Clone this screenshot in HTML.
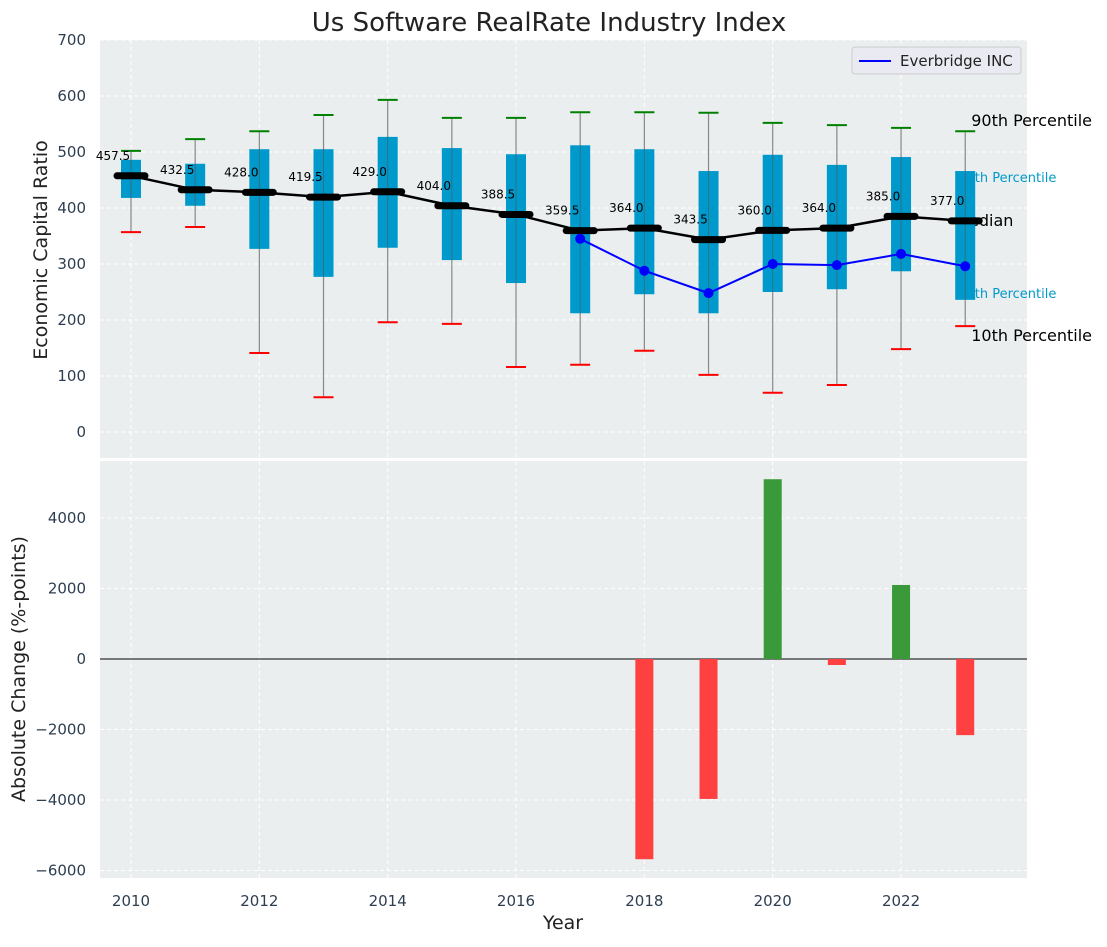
<!DOCTYPE html>
<html><head><meta charset="utf-8"><style>
body{margin:0;background:#fff;font-family:"Liberation Sans","DejaVu Sans",sans-serif}
svg text{font-family:"DejaVu Sans","Liberation Sans",sans-serif}
</style></head><body>
<svg id="c" width="1107" height="942" xmlns="http://www.w3.org/2000/svg">
<rect width="1107" height="942" fill="#fff"/>
<g id="topg"></g><g id="botg"></g>
</svg>
<script>
const years=[2010,2011,2012,2013,2014,2015,2016,2017,2018,2019,2020,2021,2022,2023];
const p90=[502,523,537,566,593,561,561,571,571,570,552,548,543,537];
const p75=[486,479,505,505,527,507,496,512,505,466,495,477,491,466];
const p25=[418,404,327,277,329,307,266,212,246,212,250,255,287,236];
const p10=[357,366,141,62,196,193,116,120,145,102,70,84,148,189];
const medians=[457.5,432.5,428.0,419.5,429.0,404.0,388.5,359.5,364.0,343.5,360.0,364.0,385.0,377.0];
const compYears=[2017,2018,2019,2020,2021,2022,2023];
const compVals=[345,288,248,300,298,318,296];
const chgYears=[2018,2019,2020,2021,2022,2023];
const chgVals=[-5680,-3970,5100,-170,2100,-2160];
const topTicks=[0,100,200,300,400,500,600,700];
const botTicks=[4000,2000,0,-2000,-4000,-6000];
const xTicks=[2010,2012,2014,2016,2018,2020,2022];

const NS="http://www.w3.org/2000/svg";
const L=100,R=1027;
const x=v=>131+(v-2010)*64.17;
const yT=v=>432-v*0.56;
const yB=v=>659-v*0.03525;
function mk(p,tag,a,txt){const e=document.createElementNS(NS,tag);for(const k in a)e.setAttribute(k,a[k]);if(txt!==undefined)e.textContent=txt;p.appendChild(e);return e;}
const topG=document.getElementById('topg'),botG=document.getElementById('botg'),svgEl=document.getElementById('c');

let e=mk(topG,'rect',{x:L,y:40,width:R-L,height:418,fill:'#eaeeef'});


e=mk(botG,'rect',{x:L,y:461,width:R-L,height:417,fill:'#eaeeef'});



xTicks.forEach(t=>{
 mk(topG,'line',{x1:x(t),x2:x(t),y1:40,y2:458,stroke:'#fff','stroke-dasharray':'4,3','stroke-width':1});
 mk(botG,'line',{x1:x(t),x2:x(t),y1:461,y2:878,stroke:'#fff','stroke-dasharray':'4,3','stroke-width':1});
 e=mk(svgEl,'text',{x:x(t),y:906,'text-anchor':'middle','font-size':15,fill:'#2d3e50'},t);
 
 
});
topTicks.forEach(t=>{
 mk(topG,'line',{x1:L,x2:R,y1:yT(t),y2:yT(t),stroke:'#fff','stroke-dasharray':'4,3','stroke-width':1});
 e=mk(svgEl,'text',{x:86,y:yT(t)+5,'text-anchor':'end','font-size':15,fill:'#2d3e50'},t);
 
 
});
botTicks.forEach(t=>{
 mk(botG,'line',{x1:L,x2:R,y1:yB(t),y2:yB(t),stroke:'#fff','stroke-dasharray':'4,3','stroke-width':1});
 e=mk(svgEl,'text',{x:86,y:yB(t)+5,'text-anchor':'end','font-size':15,fill:'#2d3e50'},(t<0?'\u2212'+(-t):t));
 
 
});

const lx=x(2023);
[['90th Percentile',lx+6,126,16,'#000'],['75th Percentile',lx-7,182,13,'#0099cc'],['Median',lx-10,226,16,'#000'],['25th Percentile',lx-7,298,13,'#0099cc'],['10th Percentile',lx+6,341,16,'#000']].forEach(a=>{
 e=mk(topG,'text',{x:a[1],y:a[2],'font-size':a[3],fill:a[4]},a[0]);
 
 
});

years.forEach((yr,i)=>{
 const cx=x(yr);
 e=mk(topG,'line',{x1:cx,x2:cx,y1:yT(p90[i]),y2:yT(p10[i]),stroke:'#888','stroke-width':1.2});
 
 
 e=mk(topG,'rect',{x:cx-10,y:yT(p75[i]),width:20,height:yT(p25[i])-yT(p75[i]),fill:'#0099cc'});
 
 
 mk(topG,'line',{x1:cx,x2:cx,y1:yT(p75[i]),y2:yT(p25[i]),stroke:'#555','stroke-width':1,opacity:0.6});
 e=mk(topG,'line',{x1:cx-10,x2:cx+10,y1:yT(p90[i]),y2:yT(p90[i]),stroke:'green','stroke-width':2});
 
 
 e=mk(topG,'line',{x1:cx-10,x2:cx+10,y1:yT(p10[i]),y2:yT(p10[i]),stroke:'red','stroke-width':2});
 
 
});
e=mk(topG,'polyline',{points:years.map((yr,i)=>x(yr)+','+yT(medians[i])).join(' '),fill:'none',stroke:'#000','stroke-width':2.5});


years.forEach((yr,i)=>{
 e=mk(topG,'line',{x1:x(yr)-14,x2:x(yr)+14,y1:yT(medians[i]),y2:yT(medians[i]),stroke:'#000','stroke-width':7,'stroke-linecap':'round'});
 
 
 e=mk(topG,'text',{x:x(yr)-18,y:yT(medians[i])-16,'text-anchor':'middle','font-size':12,fill:'#000'},medians[i].toFixed(1));
 
 
});
e=mk(topG,'polyline',{points:compYears.map((yr,i)=>x(yr)+','+yT(compVals[i])).join(' '),fill:'none',stroke:'#0000ff','stroke-width':2});


compYears.forEach((yr,i)=>{
 e=mk(topG,'circle',{cx:x(yr),cy:yT(compVals[i]),r:5,fill:'#0000ff'});
 
 
});
const lg=mk(topG,'g',{});


mk(lg,'rect',{x:852,y:47,width:169,height:27,rx:3,fill:'#eaeaf2',stroke:'#ccc'});
mk(lg,'line',{x1:859,x2:891,y1:61,y2:61,stroke:'#0000ff','stroke-width':2});
mk(lg,'text',{x:900,y:66,'font-size':15,fill:'#222'},'Everbridge INC');

mk(botG,'line',{x1:L,x2:R,y1:yB(0),y2:yB(0),stroke:'#000','stroke-width':1});
chgYears.forEach((yr,i)=>{
 const v=chgVals[i];
 e=mk(botG,'rect',{x:x(yr)-9,y:Math.min(yB(v),yB(0)),width:18,height:Math.abs(yB(v)-yB(0)),fill:v>=0?'#3a9a3a':'#ff4040'});
 
 
});

e=mk(svgEl,'text',{x:549,y:31,'text-anchor':'middle','font-size':26,fill:'#222'},'Us Software RealRate Industry Index');


e=mk(svgEl,'text',{x:563,y:929,'text-anchor':'middle','font-size':19,fill:'#222'},'Year');


e=mk(svgEl,'text',{x:0,y:0,'text-anchor':'middle','font-size':19,fill:'#222',transform:'translate(47,250) rotate(-90)'},'Economic Capital Ratio');


e=mk(svgEl,'text',{x:0,y:0,'text-anchor':'middle','font-size':19,fill:'#222',transform:'translate(25,669) rotate(-90)'},'Absolute Change (%-points)');


</script>
</body></html>
